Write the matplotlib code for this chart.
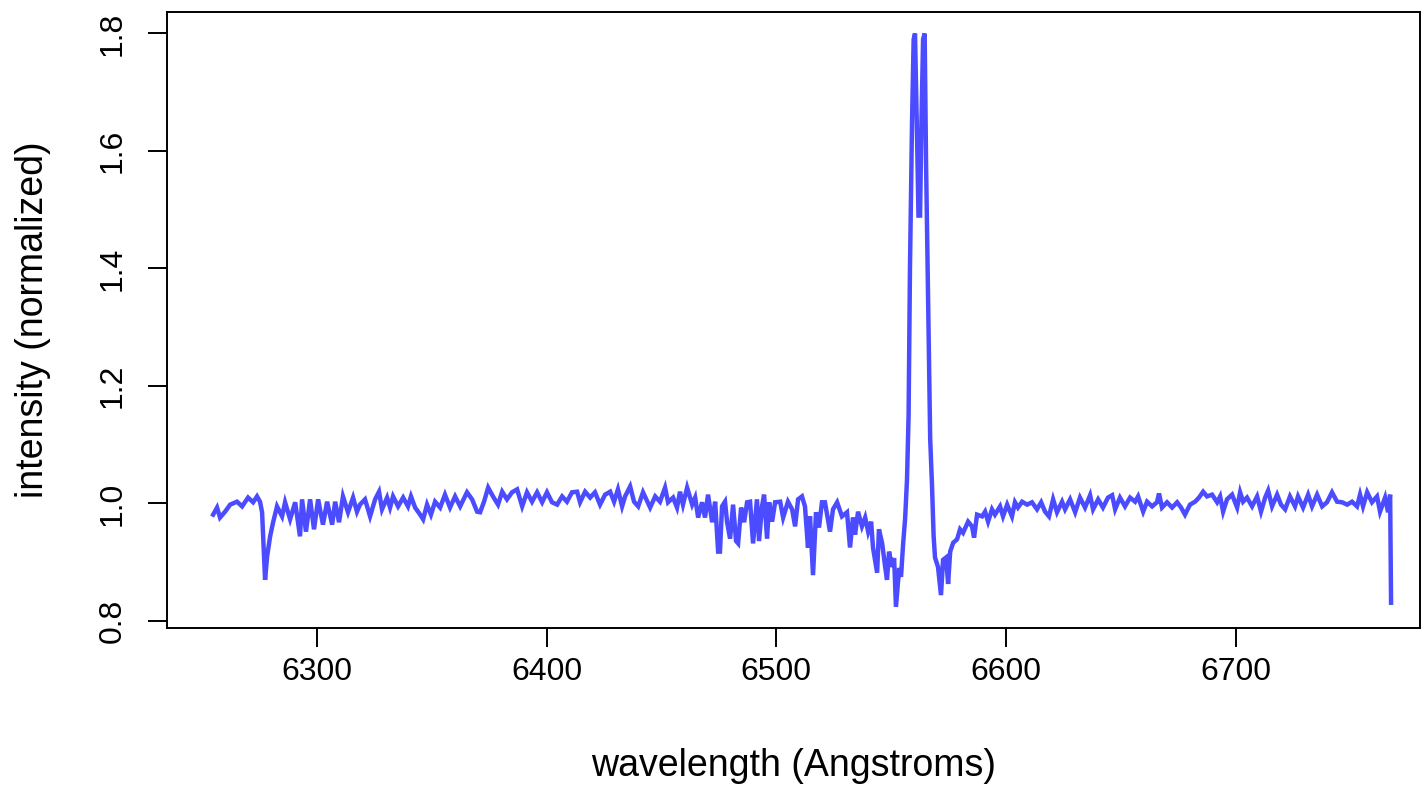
import matplotlib
matplotlib.use("Agg")
import matplotlib.pyplot as plt

# spectrum (wavelength in Angstroms, normalized intensity)
wl_blue = [6254.9, 6256.6, 6257.9, 6260.1, 6262.3, 6265.3, 6267.5, 6270.1, 6272.3, 6274.0,
           6275.3, 6276.2, 6277.5, 6278.4, 6279.7, 6281.0, 6282.7, 6284.9, 6286.2, 6288.4,
           6290.6, 6292.7, 6293.6, 6295.3, 6297.1, 6298.8, 6300.6, 6302.7, 6304.5, 6306.7,
           6308.0, 6309.7, 6311.4, 6313.6, 6315.8, 6317.5, 6318.8,
           6321.0, 6323.2, 6325.4, 6327.1, 6328.4, 6330.6, 6331.9, 6333.2, 6335.4, 6337.6,
           6339.7, 6341.0, 6342.8, 6345.0, 6346.3, 6348.0, 6349.7, 6351.5, 6353.7, 6355.8,
           6358.0, 6360.2, 6362.4, 6365.4, 6367.6, 6369.8, 6371.1, 6372.8, 6374.6, 6376.7,
           6378.9, 6380.7, 6382.8, 6385.0]
int_blue = [0.981, 0.993, 0.976, 0.986, 0.998, 1.003, 0.995, 1.010, 1.002, 1.012,
            1.003, 0.985, 0.870, 0.910, 0.944, 0.968, 0.995, 0.978, 1.002, 0.973,
            1.002, 0.944, 1.007, 0.952, 1.007, 0.956, 1.007, 0.964, 1.003, 0.964,
            1.003, 0.968, 1.012, 0.985, 1.010, 0.986, 0.998,
            1.007, 0.978, 1.007, 1.020, 0.990, 1.010, 0.993, 1.012, 0.995, 1.010,
            0.995, 1.012, 0.993, 0.981, 0.973, 0.998, 0.981, 1.003, 0.993, 1.015,
            0.993, 1.012, 0.995, 1.019, 1.007, 0.986, 0.985, 1.003, 1.027, 1.012,
            0.998, 1.020, 1.007, 1.019]

wl_mid = [6387.2, 6389.4, 6391.5, 6393.7, 6395.9, 6398.1, 6400.2, 6402.4, 6404.6, 6406.8,
          6408.9, 6411.1, 6413.3, 6414.6, 6416.8, 6419.0, 6421.1, 6423.3, 6425.5, 6427.7,
          6429.4, 6431.1, 6432.9, 6434.2, 6436.4, 6438.1, 6439.9, 6442.0, 6445.1, 6447.3,
          6449.4,
          6451.6, 6452.9, 6455.1, 6456.8, 6458.1, 6459.4, 6461.2, 6463.4, 6464.7, 6466.0,
          6467.7, 6469.0, 6470.3, 6472.1, 6473.4, 6474.7, 6475.5, 6476.4, 6477.7, 6478.6,
          6479.9, 6481.2, 6482.5, 6483.4, 6484.7, 6486.0, 6487.3, 6488.6, 6489.9, 6491.6,
          6492.5, 6493.8, 6494.7, 6496.0, 6496.9, 6498.2, 6499.5, 6501.7, 6503.0, 6505.1,
          6506.9, 6508.2, 6509.5, 6511.2, 6512.5, 6513.8, 6514.7, 6516.0, 6517.3, 6518.6,
          6519.9]
int_mid = [1.024, 0.995, 1.019, 1.003, 1.019, 1.002, 1.019, 1.002, 0.998, 1.012,
           1.003, 1.019, 1.020, 1.002, 1.020, 1.010, 1.019, 0.998, 1.015, 1.020,
           1.003, 1.024, 0.995, 1.012, 1.029, 1.003, 0.995, 1.019, 0.993, 1.012,
           1.003,
           1.027, 1.002, 1.010, 0.993, 1.020, 0.998, 1.027, 0.998, 1.010, 0.976,
           1.002, 0.976, 1.015, 0.968, 1.003, 0.918, 0.918, 0.995, 1.003, 0.968,
           0.940, 0.998, 0.936, 0.932, 0.993, 0.968, 1.002, 1.003, 0.932, 1.007,
           0.936, 0.995, 1.015, 0.940, 1.002, 0.969, 1.002, 1.003, 0.976, 1.003,
           0.990, 0.961, 1.007, 1.012, 0.995, 0.925, 0.978, 0.878, 0.985, 0.959,
           1.002]

# H-alpha region with the double-peaked emission line
wl_halpha = [6521.2, 6523.4, 6524.7, 6526.5, 6528.6, 6530.8, 6532.1, 6533.4, 6534.3, 6535.6,
             6537.3, 6538.7, 6540.0, 6541.3, 6542.1, 6543.9, 6544.7, 6546.1, 6547.4, 6548.2,
             6549.1, 6550.4, 6551.3, 6552.1, 6553.5, 6554.3, 6555.2, 6556.1, 6556.9, 6557.6,
             6558.2, 6559.1, 6559.8, 6560.4, 6561.3, 6561.9, 6562.6, 6563.2, 6563.9, 6564.6,
             6565.2, 6566.1, 6567.0, 6567.8, 6568.5, 6569.1, 6570.4, 6571.7, 6572.6, 6573.9,
             6574.8, 6575.7, 6577.0, 6578.7, 6580.0, 6581.3, 6583.5, 6585.2, 6586.1, 6587.4,
             6589.6, 6590.9, 6592.2, 6593.9, 6595.2, 6597.4, 6598.7, 6600.5, 6602.6, 6603.9,
             6605.2, 6607.0, 6609.2, 6611.3, 6613.5, 6615.3, 6617.0, 6618.7, 6620.5, 6622.2,
             6624.4]
int_halpha = [1.002, 0.952, 0.990, 1.002, 0.978, 0.985, 0.925, 0.976, 0.947, 0.986,
              0.961, 0.976, 0.952, 0.969, 0.925, 0.882, 0.956, 0.932, 0.892, 0.870,
              0.918, 0.892, 0.907, 0.824, 0.890, 0.875, 0.930, 0.975, 1.040, 1.150,
              1.400, 1.650, 1.790, 1.800, 1.620, 1.490, 1.490, 1.650, 1.790, 1.800,
              1.580, 1.340, 1.110, 1.030, 0.944, 0.908, 0.892, 0.844, 0.904, 0.908,
              0.863, 0.918, 0.933, 0.939, 0.956, 0.950, 0.969, 0.961, 0.942, 0.981,
              0.978, 0.986, 0.969, 0.990, 0.981, 0.995, 0.978, 0.998, 0.978, 1.002,
              0.993, 1.003, 0.998, 1.002, 0.990, 1.002, 0.986, 0.978, 1.007, 0.985,
              1.003]

wl_red = [6625.7, 6627.9, 6630.1, 6632.2, 6634.4, 6636.6, 6637.9, 6640.1, 6642.2, 6644.4,
          6646.2, 6647.5, 6649.6, 6651.8, 6654.0, 6656.2, 6657.5, 6659.7, 6661.4, 6663.6,
          6665.7, 6666.6, 6667.9, 6670.1, 6672.3, 6674.5, 6676.2, 6677.9, 6680.1, 6682.3,
          6684.0, 6685.8, 6687.5, 6689.7, 6691.9, 6693.2, 6694.5,
          6696.2, 6698.4, 6700.6, 6701.9, 6703.2, 6704.9, 6707.1, 6709.3, 6711.0, 6712.8,
          6714.1, 6715.8, 6718.0, 6719.7, 6721.5, 6723.6, 6725.8, 6727.1, 6729.3, 6731.5,
          6733.2, 6735.4, 6737.6, 6739.7, 6741.9, 6744.1, 6746.3, 6748.5, 6750.6, 6752.8,
          6754.1, 6755.4, 6757.2, 6759.3, 6761.5, 6762.8, 6765.0, 6766.3, 6767.2, 6767.6]
int_red = [0.990, 1.007, 0.985, 1.010, 0.993, 1.014, 0.990, 1.007, 0.993, 1.010,
           1.014, 0.990, 1.010, 0.995, 1.010, 1.003, 1.012, 0.986, 1.003, 0.995,
           1.002, 1.017, 0.993, 1.002, 0.993, 1.002, 0.993, 0.981, 0.998, 1.003,
           1.010, 1.020, 1.012, 1.015, 1.002, 1.012, 0.986,
           1.007, 1.015, 0.993, 1.019, 1.003, 1.010, 0.995, 1.012, 0.986, 1.010,
           1.022, 0.995, 1.015, 0.998, 0.990, 1.012, 0.995, 1.012, 0.993, 1.015,
           0.995, 1.015, 0.995, 1.002, 1.019, 1.003, 1.002, 0.998, 1.003, 0.995,
           1.015, 0.995, 1.019, 1.002, 1.012, 0.986, 1.010, 0.985, 1.015, 0.831]

wavelength = wl_blue + wl_mid + wl_halpha + wl_red
intensity = int_blue + int_mid + int_halpha + int_red

x_ticks = [6300, 6400, 6500, 6600, 6700]
y_ticks = [0.8, 1.0, 1.2, 1.4, 1.6, 1.8]

plt.rcParams['font.family'] = ['Liberation Sans', 'DejaVu Sans']

fig = plt.figure(figsize=(14.21, 7.85), dpi=100)
ax = fig.add_axes([0.1175, 0.2, 0.8818, 0.7843])

ax.plot(wavelength, intensity, color='#4b4bff', lw=3.2, solid_joinstyle='miter')

ax.set_xlim(6234.8, 6780.2)
ax.set_ylim(0.788, 1.836)

ax.set_xticks(x_ticks)
ax.set_yticks(y_ticks)
ax.set_yticklabels([f"{v:.1f}" for v in y_ticks], rotation=90, va='center')
ax.tick_params(axis='x', direction='out', length=14, width=1.4, labelsize=23, pad=7)
ax.tick_params(axis='y', direction='out', length=14, width=1.4, labelsize=23, pad=14)
for s in ax.spines.values():
    s.set_linewidth(1.4)

ax.set_xlabel("wavelength (Angstroms)", fontsize=27, labelpad=44)
ax.set_ylabel("intensity (normalized)", fontsize=27, labelpad=34)

fig.savefig("out.png", dpi=100)
